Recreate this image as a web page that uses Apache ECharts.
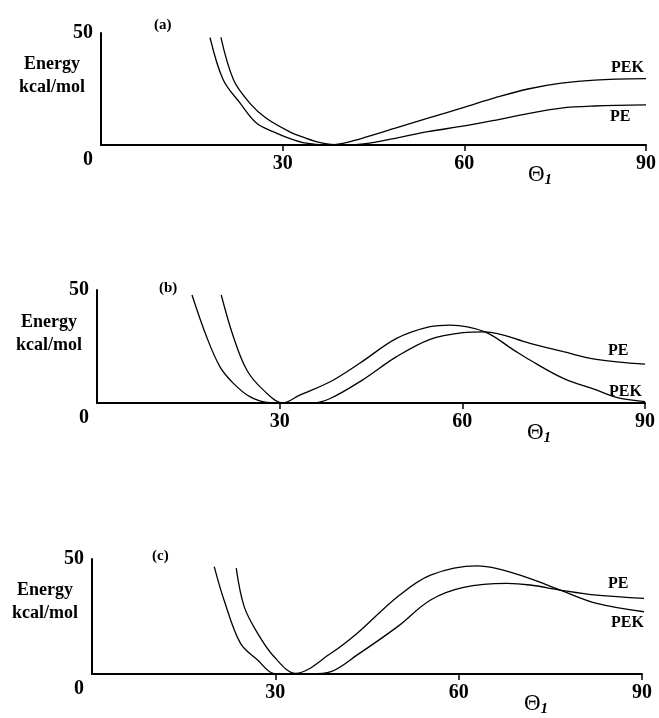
<!DOCTYPE html>
<html>
<head>
<meta charset="utf-8">
<script src="https://cdn.jsdelivr.net/npm/echarts@6/dist/echarts.min.js"></script>
<style>
  html, body { margin: 0; padding: 0; background: #fff; }
  #chart { width: 659px; height: 718px; }
</style>
</head>
<body>
<div id="chart"></div>
<script>
// values: [theta1 (deg), energy (kcal/mol)]
var panelTitles = ["(a)", "(b)", "(c)"];
var xTicks = [30, 60, 90];
var yTicks = [0, 50];

var peA = [[18, 48], [20.2, 29], [23, 18.6], [25.7, 9.7], [28.4, 6], [31.1, 3], [33.9, 0.8],
  [37, 0], [42, 0.2], [48.6, 3], [54, 6], [60, 8.5], [65, 11], [70.5, 14], [76, 16.5], [81.5, 17.4], [90, 17.9]];
var pekA = [[19.8, 48], [21.9, 29], [24.6, 18.6], [27.3, 11.9], [31.1, 6], [33.9, 3], [36.6, 0.8],
  [38.5, 0.2], [43.1, 3], [48.6, 7.5], [54, 12], [60.2, 17], [65, 21], [70.5, 25], [76, 27.6], [81.5, 29], [90, 29.6]];

var peB = [[15.6, 47.8], [18, 29.3], [20.2, 16], [22.4, 8.7], [25.1, 2.8], [27.9, 0.3], [31, 0],
  [35.3, 0], [38.3, 2], [43.5, 10], [49.2, 20.5], [54.7, 28.2], [60.1, 31.1], [63.7, 31.5], [71.1, 26.4],
  [76.6, 22.7], [82, 19.3], [90, 17.2]];
var pekB = [[20.4, 47.8], [22.4, 29.3], [24.6, 14.6], [27.3, 5.8], [30.5, 0], [33.3, 3.5], [38.3, 9.4],
  [43.2, 17.7], [49.2, 28.6], [54.7, 33.8], [58, 34.5], [63.7, 31.5], [68.4, 23.5], [71.1, 19],
  [76.6, 10.9], [82, 5.8], [85.3, 2.5], [90, 0.6]];

var peC = [[20, 46.7], [21.6, 32.2], [24.3, 13.3], [27.1, 6.1], [29.8, 0.2], [33, 0], [35.8, 0],
  [39.1, 1], [43.4, 8.3], [50, 20.6], [55.4, 32.2], [60.8, 37.7], [67.9, 39.4], [71.7, 38.7],
  [76.6, 36.5], [82.6, 34.3], [90.5, 32.9]];
var pekC = [[23.6, 46], [24.9, 29.3], [27.1, 17.7], [29.8, 7.5], [33.3, 0.3], [39.1, 9], [43.4, 17.7],
  [50, 33.6], [55.4, 43], [63, 47], [66.3, 45.8], [71.7, 41.5], [76.6, 36.5], [82.6, 30.7], [90.5, 27]];

var myChart = echarts.init(document.getElementById("chart"));

var serif = "Liberation Serif";
var grids = [
  { left: 101, top: 33, width: 548, height: 112 },
  { left: 97, top: 290, width: 548, height: 113 },
  { left: 92, top: 559, width: 550, height: 115 }
];
var titleTops = [13, 276, 544];
var titleLefts = [149, 154, 147];
var peLabelOff = [[-44, 12], [-45, -13], [-44, -14]];
var pekLabelOff = [[-43, -11], [-44, -10], [-41, 11]];
var energyPos = [[52, 76], [49, 334], [45, 602]];
var seriesData = [[peA, pekA], [peB, pekB], [peC, pekC]];

var xAxes = [], yAxes = [], series = [], titles = [], texts = [];
for (var i = 0; i < 3; i++) {
  titles.push({
    text: panelTitles[i], left: titleLefts[i], top: titleTops[i],
    textStyle: { fontFamily: serif, fontWeight: "bold", fontSize: 15, color: "#000" }
  });
  texts.push({
    type: "text", x: energyPos[i][0], y: energyPos[i][1],
    style: {
      text: "Energy\nkcal/mol", align: "center", verticalAlign: "middle",
      font: "bold 18px 'Liberation Serif'", lineHeight: 23, fill: "#000"
    }
  });
  xAxes.push({
    type: "value", gridIndex: i, min: 0, max: 90, interval: 30,
    axisLine: { lineStyle: { color: "#000", width: 2 } },
    axisTick: { show: true, inside: false, length: 6, customValues: xTicks, lineStyle: { color: "#000", width: 1.5 } },
    splitLine: { show: false },
    axisLabel: {
      margin: 9, color: "#000", fontFamily: serif, fontWeight: "bold", fontSize: 20,
      customValues: xTicks
    },
    name: "{t|Θ}{s|1}", nameLocation: "end", nameGap: -118,
    nameTextStyle: {
      padding: [60, 0, 0, 0],
      rich: {
        t: { fontFamily: serif, fontSize: 23, color: "#000" },
        s: { fontFamily: serif, fontSize: 15, fontStyle: "italic", fontWeight: "bold", color: "#000", padding: [10, 0, 0, 0] }
      }
    }
  });
  yAxes.push({
    type: "value", gridIndex: i, min: yTicks[0], max: yTicks[1], interval: 50,
    axisLine: { show: true, lineStyle: { color: "#000", width: 2 } },
    axisTick: { show: false },
    splitLine: { show: false },
    axisLabel: {
      margin: 8, color: "#000", fontFamily: serif, fontWeight: "bold", fontSize: 20,
      formatter: function (v) { return v === 0 ? "{z|0}" : String(v); },
      rich: { z: { fontFamily: serif, fontWeight: "bold", fontSize: 20, color: "#000", padding: [30, 0, 0, 0] } }
    }
  });
  var pair = seriesData[i];
  series.push({
    name: "PE", type: "line", xAxisIndex: i, yAxisIndex: i, data: pair[0],
    smooth: 0.35, showSymbol: false, clip: true,
    lineStyle: { color: "#000", width: 1.3 },
    endLabel: {
      show: true, formatter: "PE", offset: peLabelOff[i],
      fontFamily: serif, fontWeight: "bold", fontSize: 16, color: "#000"
    }
  });
  series.push({
    name: "PEK", type: "line", xAxisIndex: i, yAxisIndex: i, data: pair[1],
    smooth: 0.35, showSymbol: false, clip: true,
    lineStyle: { color: "#000", width: 1.3 },
    endLabel: {
      show: true, formatter: "PEK", offset: pekLabelOff[i],
      fontFamily: serif, fontWeight: "bold", fontSize: 16, color: "#000"
    }
  });
}

var option = {
  animation: false,
  backgroundColor: "#fff",
  title: titles,
  graphic: texts,
  grid: grids,
  xAxis: xAxes,
  yAxis: yAxes,
  series: series
};
myChart.setOption(option);
</script>
</body>
</html>
